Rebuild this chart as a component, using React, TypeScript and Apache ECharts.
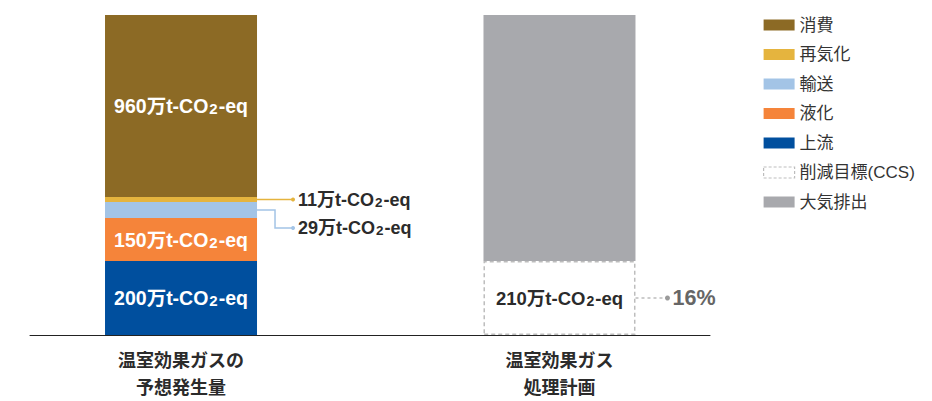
import React, { useEffect, useRef } from "react";
import * as echarts from "echarts";

// categories (the middle slot is an empty gap between the two bars)
const categories = ["温室効果ガスの\n予想発生量", "", "温室効果ガス\n処理計画"];

// left stacked bar (bottom → top)
const leftNames = ["上流", "液化", "輸送", "再気化", "消費"];
const leftHeights = [74, 43, 16, 5, 182]; // drawn heights (as in the picture)
const leftAmounts = [200, 150, 29, 11, 960]; // labelled amounts, 万t-CO2-eq
const leftColors = ["#004F9E", "#F5843A", "#A3C4E6", "#E5B43E", "#8C6A25"];

// right stacked bar (bottom → top)
const rightNames = ["削減目標(CCS)", "大気排出"];
const rightHeights = [74, 246];
const rightAmounts = [210, null];
const ccsShare = "16%";
const grayColor = "#A8A9AD";
const dashColor = "#BDBDBD";

const legendOrder = ["消費", "再気化", "輸送", "液化", "上流", "削減目標(CCS)", "大気排出"];

const FONT = "'Liberation Sans', 'Noto Sans CJK JP', sans-serif";
const BAR_W = 152;

const amountText = (v: number) => `{a|${v}万t-CO}{s|2}{a|-eq}`;
const rich = (color: string, size: number) => ({
  a: { fontSize: size, fontWeight: "bold", color, fontFamily: FONT },
  s: { fontSize: size - 4.5, fontWeight: "bold", color, fontFamily: FONT, padding: [5, 1, 0, 1] },
});

export default function App() {
  const ref = useRef<HTMLDivElement>(null);
  useEffect(() => {
    if (!ref.current) return;
    const chart = echarts.init(ref.current, null, { renderer: "svg" });
    const total = leftHeights.reduce((s, v) => s + v, 0);

    const series: any[] = [];
    leftNames.forEach((name, i) => {
      const outside = leftAmounts[i] < 100;
      series.push({
        name,
        type: "bar",
        stack: "total",
        barWidth: BAR_W,
        data: [leftHeights[i], null, null],
        itemStyle: { color: leftColors[i] },
        label: outside
          ? {
              show: true,
              position: "right",
              distance: 41,
              offset: name === "輸送" ? [0, 18] : [0, 0],
              formatter: amountText(leftAmounts[i]),
              rich: rich("#2b2b2b", 18),
            }
          : {
              show: true,
              position: "inside",
              formatter: amountText(leftAmounts[i]),
              rich: rich("#ffffff", 19.5),
            },
      });
    });
    rightNames.forEach((name, i) => {
      const isCcs = i === 0;
      series.push({
        name,
        type: "bar",
        stack: "total",
        barWidth: BAR_W,
        data: [null, null, rightHeights[i]],
        itemStyle: isCcs
          ? { color: "#ffffff", borderColor: dashColor, borderWidth: 1.5, borderType: [4, 3] }
          : { color: grayColor },
        label: isCcs && rightAmounts[i] != null
          ? {
              show: true,
              position: "inside",
              formatter: amountText(rightAmounts[i] as number),
              rich: rich("#2b2b2b", 18.5),
            }
          : { show: false },
      });
    });

    const legendData = legendOrder.map((name) =>
      name === rightNames[0]
        ? { name, itemStyle: { color: "#ffffff", borderColor: dashColor, borderWidth: 1.2, borderType: [3, 2] } }
        : { name }
    );

    chart.setOption({
      animation: false,
      textStyle: { fontFamily: FONT },
      grid: [
        // bar grid: category bands centred on the bars
        { left: 86.4, right: 277.9, top: 15, bottom: 66, containLabel: false },
        // baseline grid
        { left: 30, right: 222, top: 15, bottom: 66, containLabel: false },
      ],
      xAxis: [
        {
          type: "category",
          gridIndex: 0,
          data: categories,
          axisLine: { show: false },
          axisTick: { show: false },
          axisLabel: {
            interval: 0,
            fontSize: 18,
            fontWeight: "bold",
            color: "#2b2b2b",
            lineHeight: 27,
            margin: 12,
            fontFamily: FONT,
          },
        },
        {
          type: "value",
          gridIndex: 1,
          min: 0,
          max: 1,
          axisLine: { show: true, lineStyle: { color: "#222", width: 1 } },
          axisTick: { show: false },
          axisLabel: { show: false },
          splitLine: { show: false },
        },
      ],
      yAxis: [
        { type: "value", gridIndex: 0, min: 0, max: total, show: false },
        { type: "value", gridIndex: 1, min: 0, max: 1, show: false },
      ],
      legend: {
        orient: "vertical",
        left: 763,
        top: 16,
        padding: 0,
        icon: "rect",
        itemWidth: 31,
        itemHeight: 11,
        itemGap: 11.5,
        selectedMode: false,
        data: legendData,
        textStyle: { fontSize: 17, color: "#333", lineHeight: 18, fontFamily: FONT },
      },
      series,
    });

    // leader lines from the library's own scale
    const px = (x: number, y: number) => chart.convertToPixel({ gridIndex: 0 }, [x, y]) as number[];
    const leftRight = px(0, 0)[0] + BAR_W / 2;
    const rightRight = px(2, 0)[0] + BAR_W / 2;
    const cum = (arr: number[], i: number) => arr.slice(0, i).reduce((s, v) => s + v, 0) + arr[i] / 2;
    const yYellow = px(0, cum(leftHeights, 3))[1];
    const yBlue = px(0, cum(leftHeights, 2))[1];
    const yCcs = px(2, cum(rightHeights, 0))[1];
    const endX = leftRight + 36;
    const graphic: any[] = [
      { type: "polyline", shape: { points: [[leftRight, yYellow], [endX, yYellow]] }, style: { stroke: leftColors[3], lineWidth: 1.5, fill: null } },
      { type: "circle", shape: { cx: endX, cy: yYellow, r: 2 }, style: { fill: leftColors[3] } },
      { type: "polyline", shape: { points: [[leftRight, yBlue], [leftRight + 18, yBlue], [leftRight + 18, yBlue + 18], [endX, yBlue + 18]] }, style: { stroke: leftColors[2], lineWidth: 1.5, fill: null } },
      { type: "circle", shape: { cx: endX, cy: yBlue + 18, r: 2 }, style: { fill: leftColors[2] } },
      { type: "line", shape: { x1: rightRight, y1: yCcs, x2: rightRight + 32, y2: yCcs }, style: { stroke: dashColor, lineWidth: 1.5, lineDash: [3, 3] } },
      { type: "circle", shape: { cx: rightRight + 32, cy: yCcs, r: 2.5 }, style: { fill: "#9a9a9a" } },
      { type: "text", x: rightRight + 37, y: yCcs, style: { text: ccsShare, fontSize: 21.5, fontWeight: "bold", fill: "#666", fontFamily: FONT, verticalAlign: "middle", align: "left" } },
    ];
    chart.setOption({ graphic });

    return () => chart.dispose();
  }, []);
  return <div ref={ref} style={{ position: "absolute", left: 0, top: 0, width: 932, height: 401 }} />;
}
